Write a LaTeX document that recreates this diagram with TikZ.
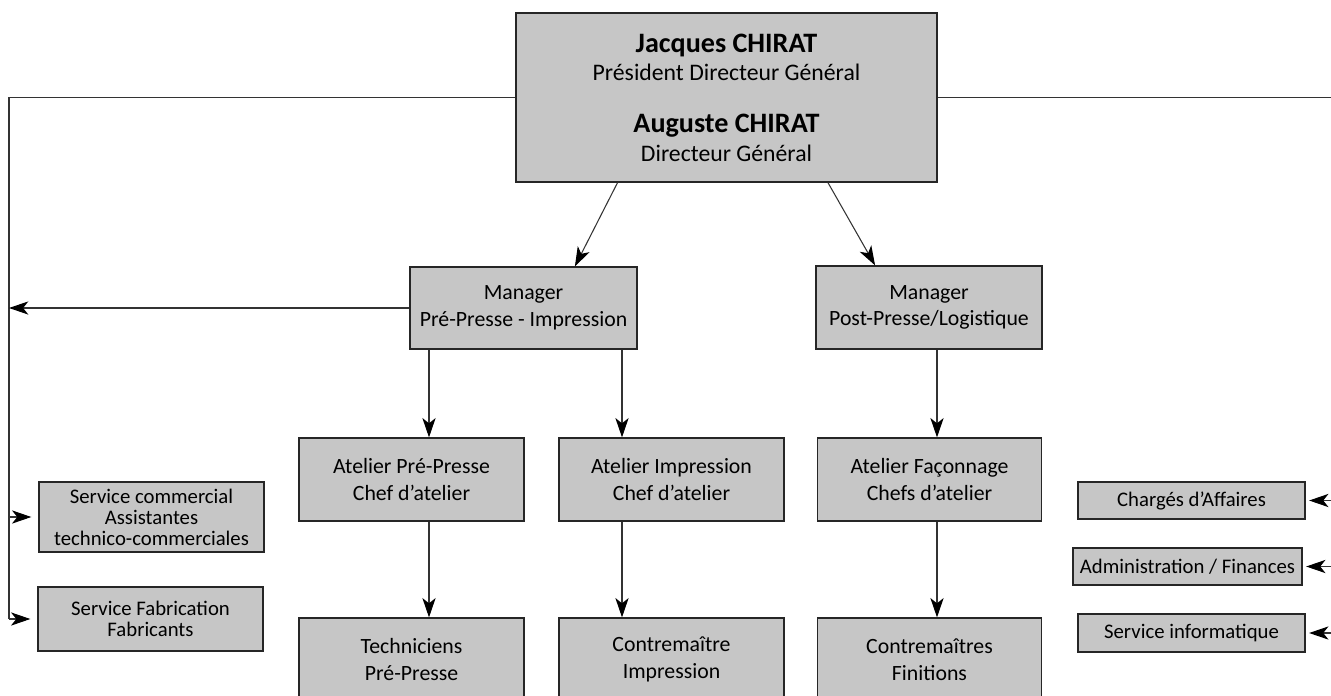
\documentclass[tikz,border=0pt]{standalone}
\usepackage{fontspec}
\setmainfont{Carlito}
\usetikzlibrary{arrows.meta}
\definecolor{boxgray}{RGB}{198,198,198}
\newcommand{\boxfont}{\fontsize{12.4}{15.1}\selectfont}
\newcommand{\sidefont}{\fontsize{11.8}{12}\selectfont}
\newcommand{\namefont}{\fontsize{16}{16}\selectfont\bfseries}
\newcommand{\titlefont}{\fontsize{13.5}{16}\selectfont}

\begin{document}
\begin{tikzpicture}[>={Stealth[length=11pt,width=7.5pt,inset=3pt,color=black]}, line width=0.6pt, x=0.2mm, y=-0.2mm,
  box/.style={draw=black!85, fill=boxgray, line width=0.7pt, align=center, inner sep=0pt,
    font=\boxfont, minimum width=4.5cm, minimum height=1.66cm},
  side/.style={box, font=\sidefont}]
\path[fill=white, use as bounding box] (0,0) rectangle (1331,695);

\node[box, font=\titlefont, minimum width=8.42cm, minimum height=3.38cm] (pdg) at (726.5,97.5)
  {{\namefont Jacques CHIRAT}\\Président Directeur Général\\[14pt]{\namefont Auguste CHIRAT}\\Directeur Général};

\node[box, minimum width=4.54cm, minimum height=1.64cm] (mgrPP) at (523.5,308) {Manager\\Pré-Presse - Impression};
\node[box, minimum width=4.52cm] (mgrPost) at (929,307.5) {Manager\\Post-Presse/Logistique};

\node[box] (atPP) at (411.5,479.5) {Atelier Pré-Presse\\Chef d’atelier};
\node[box] (atImp) at (671.5,479.5) {Atelier Impression\\Chef d’atelier};
\node[box, minimum width=4.48cm] (atFac) at (929.5,479.5) {Atelier Façonnage\\Chefs d’atelier};

\node[box] (techPP) at (411.5,659.5) {Techniciens\\Pré-Presse};
\node[box] (contImp) at (671.5,659.5) {Contremaître\\Impression};
\node[box, minimum width=4.48cm] (contFin) at (929.5,659.5) {Contremaîtres\\Finitions};

\node[side, minimum height=1.4cm] (servCom) at (151.5,517) {Service commercial\\Assistantes\\technico-commerciales};
\node[side, minimum height=1.28cm] (servFab) at (150.5,619) {Service Fabrication\\Fabricants};

\node[side, minimum width=4.54cm, minimum height=0.74cm] (charges) at (1191.5,500.5) {Chargés d’Affaires};
\node[side, minimum width=4.58cm, minimum height=0.74cm] (admin) at (1187.5,566.5) {Administration / Finances};
\node[side, minimum width=4.54cm, minimum height=0.76cm] (info) at (1191.5,633) {Service informatique};

\coordinate (lbus) at (9,96);
\coordinate (rbus) at (1331,96);
\coordinate (colA) at (429,0);
\coordinate (colB) at (622,0);
\coordinate (colC) at (937,0);

% left bus
\draw[black!80] (pdg.west) -- (pdg.west -| lbus) -- (servFab.west -| lbus);
\draw[black!80, ->, shorten >=4pt] (servCom.west -| lbus) -- (servCom.west);
\draw[black!80, ->, shorten >=4pt] (servFab.west -| lbus) -- (servFab.west);
\draw[black!80, ->] (mgrPP.west) -- (mgrPP.west -| lbus);

% right bus
\draw[black!80] (pdg.east) -- (pdg.east -| rbus);
\foreach \n in {charges, admin, info}
  \draw[black!80, ->, shorten >=2pt] (\n.east -| rbus) -- (\n.east);

\draw[black!80, ->] (pdg.218.4) -- (mgrPP.39.6);
\draw[black!80, ->] (pdg.320.2) -- (mgrPost.142.5);

\draw[black!80, ->] (mgrPP.south -| colA) -- (atPP.north -| colA);
\draw[black!80, ->] (atPP.south -| colA) -- (techPP.north -| colA);
\draw[black!80, ->] (mgrPP.south -| colB) -- (atImp.north -| colB);
\draw[black!80, ->] (atImp.south -| colB) -- (contImp.north -| colB);
\draw[black!80, ->] (mgrPost.south -| colC) -- (atFac.north -| colC);
\draw[black!80, ->] (atFac.south -| colC) -- (contFin.north -| colC);
\end{tikzpicture}
\end{document}
